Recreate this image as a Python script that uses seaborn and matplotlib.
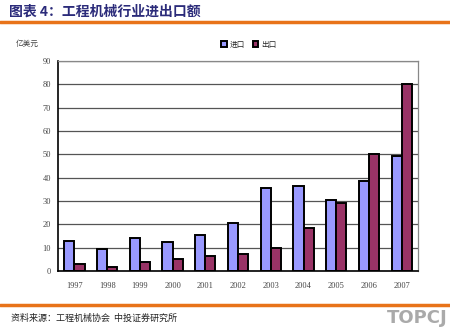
import matplotlib
matplotlib.use("Agg")
import matplotlib.pyplot as plt
import seaborn as sns
import pandas as pd

years = ["1997", "1998", "1999", "2000", "2001", "2002", "2003", "2004", "2005", "2006", "2007"]
imports = [13.0, 9.4, 14.3, 12.6, 15.3, 20.6, 35.4, 36.3, 30.6, 38.7, 49.4]
exports = [2.9, 1.9, 3.9, 5.0, 6.4, 7.3, 9.9, 18.3, 29.3, 50.1, 80.0]
series_names = ["进口", "出口"]
yticks = [0, 10, 20, 30, 40, 50, 60, 70, 80, 90]

sns.set_theme(style="white")
plt.rcParams['font.family'] = ['Noto Sans CJK SC', 'DejaVu Sans']

df = pd.DataFrame({
    "year": years * 2,
    "value": imports + exports,
    "series": [series_names[0]] * len(years) + [series_names[1]] * len(years),
})

fig = plt.figure(figsize=(4.5, 3.35), dpi=100)
ax = fig.add_axes([0.129, 0.191, 0.80, 0.627])

sns.barplot(data=df, x="year", y="value", hue="series", order=years,
            hue_order=series_names, palette=["#9999FF", "#993366"], saturation=1,
            width=0.62, edgecolor="black", linewidth=1.4, ax=ax, legend=True)

ax.set_ylim(0, 90)
ax.set_yticks(yticks)
ax.set_yticklabels([str(t) for t in yticks], fontsize=6, color="#444444",
                   family="Liberation Serif")
ax.set_xticklabels(years, fontsize=6, color="#444444", family="Liberation Serif")
ax.set_xlabel("")
ax.set_ylabel("")
ax.yaxis.grid(True, color="#555555", linewidth=0.9)
ax.set_axisbelow(True)
ax.tick_params(axis="y", length=0, pad=5)
ax.tick_params(axis="x", length=0, pad=8)
for s in ["left", "bottom"]:
    ax.spines[s].set_color("black")
    ax.spines[s].set_linewidth(1.2)
for s in ["top", "right"]:
    ax.spines[s].set_color("#888888")
    ax.spines[s].set_linewidth(0.9)

leg = ax.legend(loc="upper center", bbox_to_anchor=(0.53, 1.13), ncol=2,
                frameon=False, fontsize=5.5, handlelength=0.7, handleheight=0.7,
                columnspacing=1.0, handletextpad=0.4)
for h in leg.legend_handles:
    h.set_edgecolor("black")

fig.text(0.035, 0.862, "亿美元", fontsize=5.5, color="#444444")

fig.text(0.02, 0.965, "图表 4：工程机械行业进出口额", fontsize=10, fontweight="bold",
         color="#2B2B7A", va="center")
fig.add_artist(plt.Line2D([0.0, 1.0], [0.935, 0.935], color="#E8731A", linewidth=2.5,
                          transform=fig.transFigure))
fig.add_artist(plt.Line2D([0.0, 1.0], [0.09, 0.09], color="#E8731A", linewidth=2.5,
                          transform=fig.transFigure))
fig.text(0.025, 0.05, "资料来源：工程机械协会  中投证券研究所", fontsize=6.5, color="#222222",
         va="center")
fig.text(0.995, 0.05, "TOPCJ", fontsize=13, fontweight="bold", color="#AAAAAA",
         ha="right", va="center", family="DejaVu Sans")

fig.savefig("out.png", dpi=100)
